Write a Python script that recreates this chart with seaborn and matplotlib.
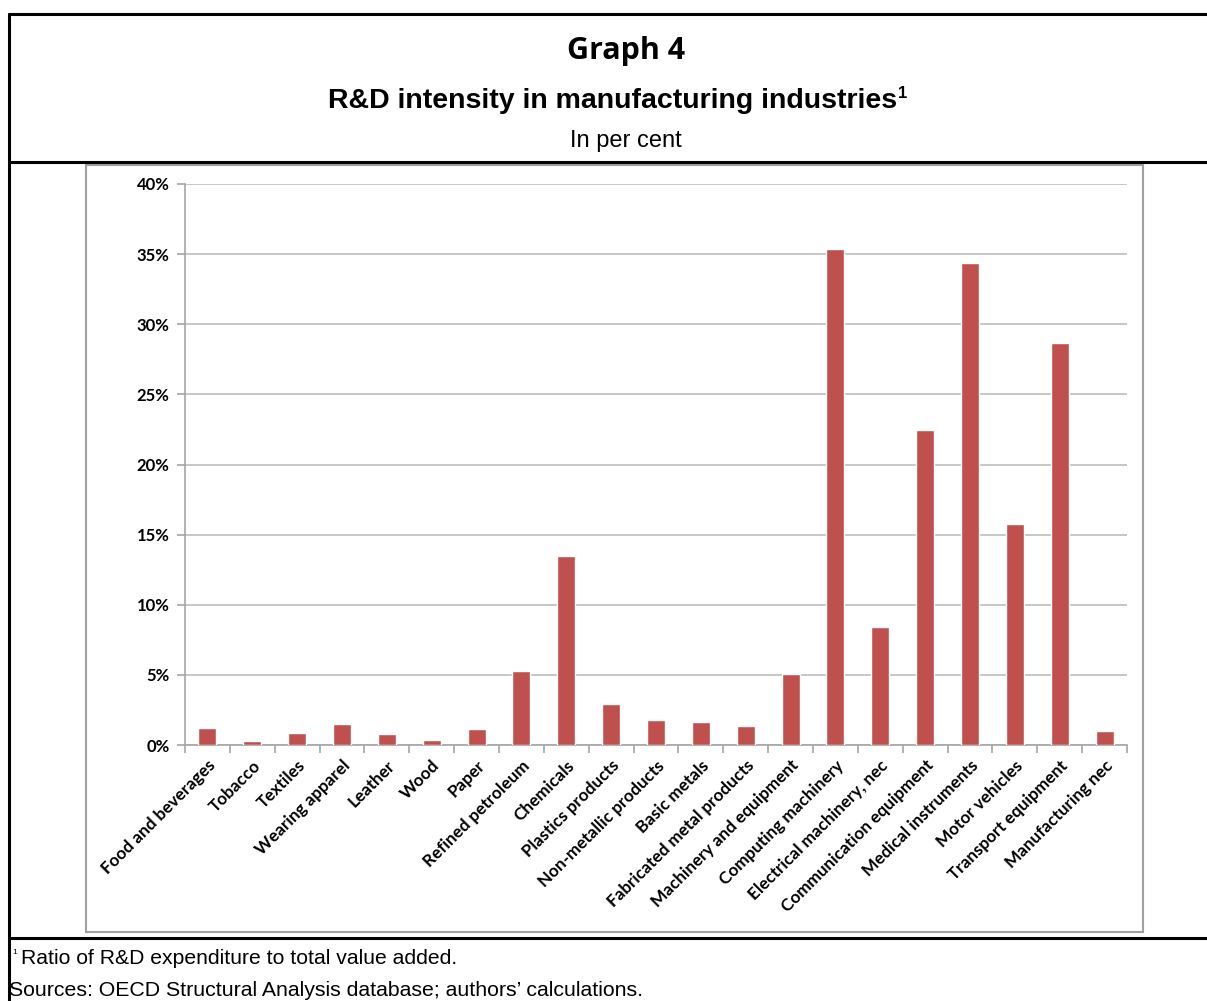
import matplotlib
matplotlib.use("Agg")
import matplotlib.pyplot as plt
from matplotlib.lines import Line2D
from matplotlib.patches import Rectangle
from matplotlib.ticker import FixedLocator, PercentFormatter
import numpy as np
import pandas as pd
import seaborn as sns

# R&D intensity by manufacturing industry, per cent
industries = [
    "Food and beverages", "Tobacco", "Textiles", "Wearing apparel", "Leather",
    "Wood", "Paper", "Refined petroleum", "Chemicals", "Plastics products",
    "Non-metallic products", "Basic metals", "Fabricated metal products",
    "Machinery and equipment", "Computing machinery",
    "Electrical machinery, nec", "Communication equipment",
    "Medical instruments", "Motor vehicles", "Transport equipment",
    "Manufacturing nec",
]
intensity = [
    1.2, 0.3, 0.85, 1.5, 0.8, 0.35, 1.15, 5.25, 13.5, 2.9,
    1.8, 1.65, 1.35, 5.05, 35.35, 8.4, 22.45, 34.35, 15.75, 28.65,
    1.0,
]
y_ticks = [0, 5, 10, 15, 20, 25, 30, 35, 40]

title = "Graph 4"
subtitle = "R&D intensity in manufacturing industries"
unit = "In per cent"
note = "Ratio of R&D expenditure to total value added."
source = "Sources: OECD Structural Analysis database; authors\u2019 calculations."

df = pd.DataFrame({"industry": industries, "value": intensity})

sns.set_theme(style="white")
plt.rcParams["font.family"] = ["Liberation Sans", "DejaVu Sans"]
plt.rcParams["text.color"] = "black"
plt.rcParams["xtick.color"] = "black"
plt.rcParams["ytick.color"] = "black"

W, H = 1207, 1001
fig = plt.figure(figsize=(W / 100, H / 100), dpi=100)
ax = fig.add_axes([185 / W, 1 - 745 / H, (1127 - 185) / W, (745 - 184) / H])

sns.barplot(data=df, x="industry", y="value", color="#C0504D",
            saturation=1, width=0.4, ax=ax, zorder=3)

ax.set_xlim(-0.5, len(industries) - 0.5)
ax.set_ylim(0, 40)
ax.yaxis.set_major_locator(FixedLocator(y_ticks))
ax.yaxis.set_major_formatter(PercentFormatter(decimals=0))
ax.grid(axis="y", color="#BEBEBE", linewidth=1.2, zorder=0)
ax.set_xlabel("")
ax.set_ylabel("")

for side in ["top", "right"]:
    ax.spines[side].set_visible(False)
for side in ["left", "bottom"]:
    ax.spines[side].set_color("#A6A6A6")
    ax.spines[side].set_linewidth(1.2)

# category separators as minor ticks
ax.xaxis.set_minor_locator(FixedLocator(np.arange(-0.5, len(industries), 1.0)))
ax.tick_params(axis="x", which="major", length=0, pad=9)
ax.tick_params(axis="x", which="minor", length=6, color="#A6A6A6", width=1.2,
               bottom=True)
ax.tick_params(axis="y", which="major", length=6, color="#A6A6A6", width=1.2,
               left=True, pad=5)

ax.set_xticks(range(len(industries)))
ax.set_xticklabels(industries, rotation=45, ha="right", rotation_mode="anchor",
                   fontsize=12.3, fontweight="bold", family=["Lato", "DejaVu Sans"])
for lab in ax.get_yticklabels():
    lab.set_fontsize(12)
    lab.set_fontweight("bold")
    lab.set_family(["Lato", "DejaVu Sans"])

# panel frames
black = dict(color="black", linewidth=2.2, transform=fig.transFigure)
fig.add_artist(Line2D([9 / W, 1], [1 - 14 / H, 1 - 14 / H], **black))
fig.add_artist(Line2D([9 / W, 9 / W], [1 - 14 / H, 0], **black))
fig.add_artist(Line2D([9 / W, 1], [1 - 162 / H, 1 - 162 / H], **black))
fig.add_artist(Line2D([9 / W, 1], [1 - 938 / H, 1 - 938 / H], **black))
fig.add_artist(Rectangle((86 / W, 1 - 932 / H), (1143 - 86) / W, (932 - 165) / H,
                         transform=fig.transFigure, fill=False,
                         edgecolor="#A0A0A0", linewidth=1.5))

fig.text(626 / W, 1 - 51 / H, title, ha="center", va="center",
         fontsize=22, fontweight="bold", family=["Open Sans", "DejaVu Sans"])
sub = fig.text(328 / W, 1 - 101 / H, subtitle, ha="left", va="center",
               fontsize=20.5, fontweight="bold")
renderer = fig.canvas.get_renderer()
bb = sub.get_window_extent(renderer)
fig.text(bb.x1 / W + 1 / W, 1 - 93 / H, "1", ha="left", va="center",
         fontsize=12, fontweight="bold")
fig.text(626 / W, 1 - 141 / H, unit, ha="center", va="center", fontsize=17)
fig.text(12 / W, 1 - 952 / H, "1", ha="left", va="center", fontsize=6)
fig.text(21 / W, 1 - 959 / H, note, ha="left", va="center", fontsize=15.2)
fig.text(9 / W, 1 - 990 / H, source, ha="left", va="center", fontsize=15.3)

fig.savefig("out.png", dpi=100, facecolor="white")
